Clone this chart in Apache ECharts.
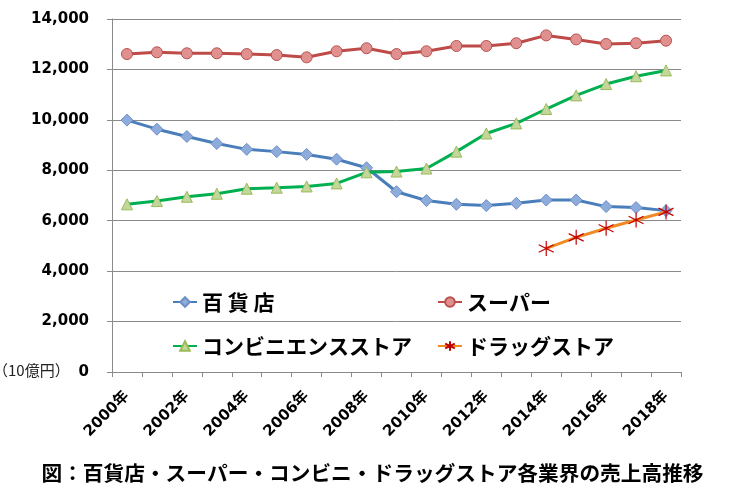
<!DOCTYPE html>
<html>
<head>
<meta charset="utf-8">
<script src="https://cdn.jsdelivr.net/npm/echarts@6/dist/echarts.min.js"></script>
<style>
html,body{margin:0;padding:0;background:#fff;}
#c{width:745px;height:488px;}
</style>
</head>
<body>
<div id="c"></div>
<script>
var years = ['2000年','2001年','2002年','2003年','2004年','2005年','2006年','2007年','2008年','2009年','2010年','2011年','2012年','2013年','2014年','2015年','2016年','2017年','2018年'];
var deptStore = [9990, 9630, 9340, 9060, 8830, 8740, 8630, 8440, 8100, 7150, 6800, 6650, 6600, 6690, 6820, 6820, 6560, 6520, 6400];
var supermarket = [12610, 12680, 12640, 12640, 12610, 12570, 12480, 12720, 12840, 12610, 12720, 12930, 12930, 13040, 13350, 13190, 13010, 13040, 13140];
var convenience = [6650, 6780, 6950, 7070, 7270, 7310, 7360, 7480, 7920, 7950, 8070, 8740, 9460, 9860, 10430, 10970, 11420, 11730, 11960];
var drugstore = [null, null, null, null, null, null, null, null, null, null, null, null, null, null, 4900, 5340, 5700, 6030, 6350];
var seriesNames = ['百 貨 店', 'スーパー', 'コンビニエンスストア', 'ドラッグストア'];
var yTicks = {min: 0, max: 14000, interval: 2000};
var titleText = '図：百貨店・スーパー・コンビニ・ドラッグストア各業界の売上高推移';
var unitText = '（10億円）';

var chart = echarts.init(document.getElementById('c'), null, {renderer: 'canvas'});
var numFont = '"DejaVu Sans", "Noto Sans CJK JP", sans-serif';
var jpFont = '"Noto Sans CJK JP", sans-serif';
var gridColor = '#8a8a8a';
var asterisk = 'path://M0,-10L0,10M-8.7,-5L8.7,5M-8.7,5L8.7,-5';
var legendText = {fontFamily: jpFont, fontWeight: 'bold', fontSize: 21, color: '#000', lineHeight: 24};

var option = {
  animation: false,
  backgroundColor: '#ffffff',
  grid: {left: 112, right: 64, top: 19, bottom: 116, containLabel: false},
  legend: [
    {
      data: [seriesNames[0], seriesNames[2]],
      orient: 'vertical', left: 172, top: 290, itemGap: 20, padding: 0,
      itemWidth: 24, itemHeight: 12, textStyle: legendText
    },
    {
      data: [seriesNames[1], seriesNames[3]],
      orient: 'vertical', left: 437, top: 290, itemGap: 20, padding: 0,
      itemWidth: 24, itemHeight: 12, textStyle: legendText
    }
  ],
  title: {
    text: titleText, left: 'center', top: 458,
    textStyle: {fontFamily: jpFont, fontWeight: 'bold', fontSize: 20.7, color: '#000'}
  },
  graphic: [{
    type: 'text', left: -7, top: 363,
    style: {text: unitText, font: '15px "Noto Sans CJK JP", sans-serif', fill: '#222'}
  }],
  xAxis: {
    type: 'category', data: years, boundaryGap: true,
    axisLine: {show: true, lineStyle: {color: gridColor, width: 1}},
    axisTick: {show: true, interval: 0, length: 5, lineStyle: {color: gridColor}},
    axisLabel: {interval: 1, rotate: 45, margin: 22, fontFamily: numFont, fontWeight: 'bold', fontSize: 15, color: '#000'},
    splitLine: {show: false}
  },
  yAxis: {
    type: 'value', min: yTicks.min, max: yTicks.max, interval: yTicks.interval,
    axisLine: {show: true, lineStyle: {color: gridColor, width: 1}},
    axisTick: {show: true, length: 5, lineStyle: {color: gridColor}},
    axisLabel: {margin: 23, fontFamily: numFont, fontWeight: 'bold', fontSize: 15, color: '#000',
      formatter: function (v) { return v.toLocaleString('en-US'); }},
    splitLine: {show: true, lineStyle: {color: gridColor, width: 1}}
  },
  series: [
    {
      name: seriesNames[0], type: 'line', data: deptStore, z: 3,
      symbol: 'diamond', symbolSize: 12,
      lineStyle: {color: '#4A7EBB', width: 3},
      itemStyle: {color: '#8EACDB', borderColor: '#6D8FC4', borderWidth: 1}
    },
    {
      name: seriesNames[1], type: 'line', data: supermarket, z: 3,
      symbol: 'circle', symbolSize: 11,
      lineStyle: {color: '#BE4B48', width: 3},
      itemStyle: {color: '#E0918F', borderColor: '#B8504D', borderWidth: 1}
    },
    {
      name: seriesNames[2], type: 'line', data: convenience, z: 3,
      symbol: 'triangle', symbolSize: 11,
      lineStyle: {color: '#00B050', width: 3},
      itemStyle: {color: '#C3D69B', borderColor: '#9BBB59', borderWidth: 1}
    },
    {
      name: seriesNames[3], type: 'line', data: drugstore, z: 4,
      symbol: asterisk, symbolSize: 15,
      lineStyle: {color: '#F08A24', width: 3},
      itemStyle: {color: 'none', borderColor: '#C00000', borderWidth: 1.2}
    }
  ]
};
chart.setOption(option);
</script>
</body>
</html>
